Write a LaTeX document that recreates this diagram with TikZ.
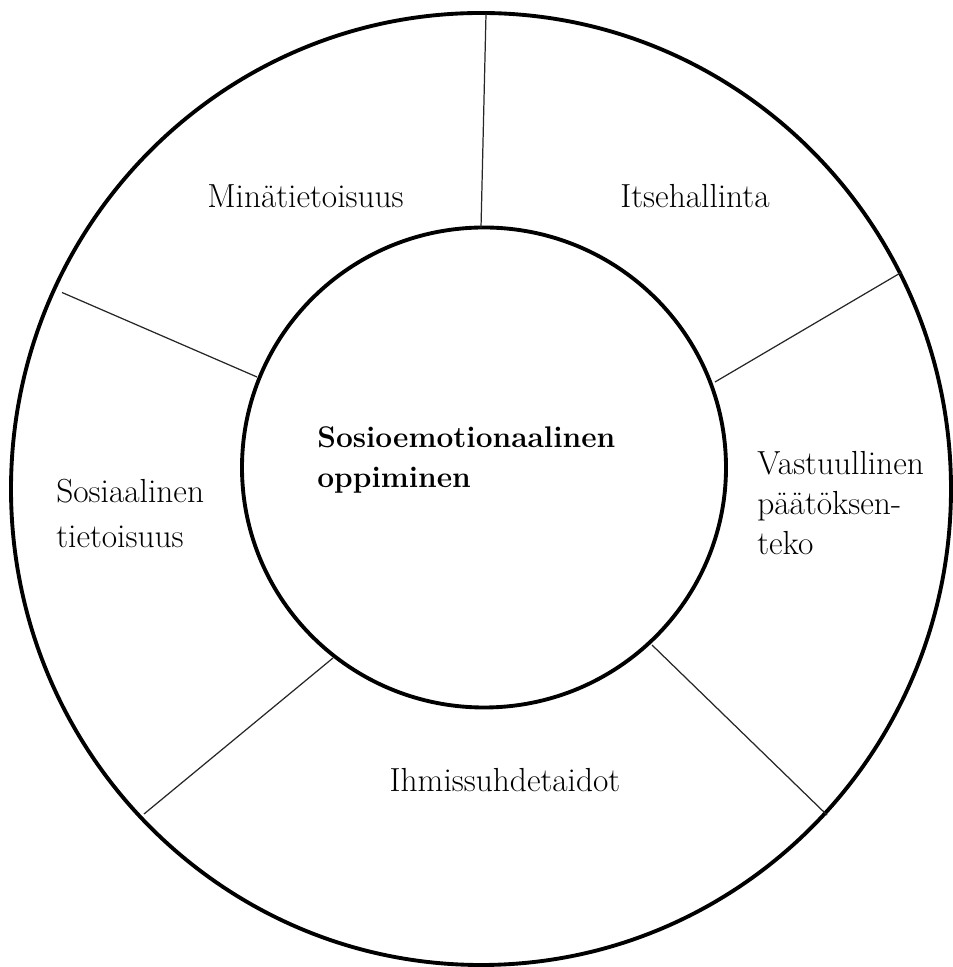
\documentclass[tikz,border=0pt]{standalone}
\usepackage{fontspec}

\begin{document}
\begin{tikzpicture}[ring/.style={line width=2.2pt},
  divider/.style={line width=0.7pt,black!85},
  area/.style={font=\fontsize{19}{23}\selectfont,align=left,inner sep=0pt},
  core/.style={font=\fontsize{17}{23}\selectfont\bfseries,align=left,inner sep=0pt}]
  \useasboundingbox (0,0) rectangle (19.06,19.34);
  \draw[ring] (9.62,9.56) ellipse (9.4 and 9.52);
  \draw[ring] (9.68,9.99) ellipse (4.84 and 4.8);
  \draw[divider] (9.72,19.06)--(9.62,14.78);
  \draw[divider] (18.04,13.9)--(14.3,11.7);
  \draw[divider] (13.04,6.44)--(16.54,3.04);
  \draw[divider] (6.66,6.18)--(2.88,3.06);
  \draw[divider] (1.24,13.49)--(5.14,11.8);
  \node[core,anchor=base west] (sel) at (6.34,9.58)
    {Sosioemotionaalinen\\oppiminen};
  \node[area,anchor=base] (mina) at (6.11,15.18) {Minätietoisuus};
  \node[area,anchor=base] (itse) at (13.9,15.18) {Itsehallinta};
  \node[area,anchor=base west,font=\fontsize{19}{26}\selectfont] (sosi) at (1.12,8.38)
    {Sosiaalinen\\tietoisuus};
  \node[area,anchor=base west] (vast) at (15.14,8.24)
    {Vastuullinen\\päätöksen-\\teko};
  \node[area,anchor=base] (ihmi) at (10.1,3.5) {Ihmissuhdetaidot};
\end{tikzpicture}
\end{document}
